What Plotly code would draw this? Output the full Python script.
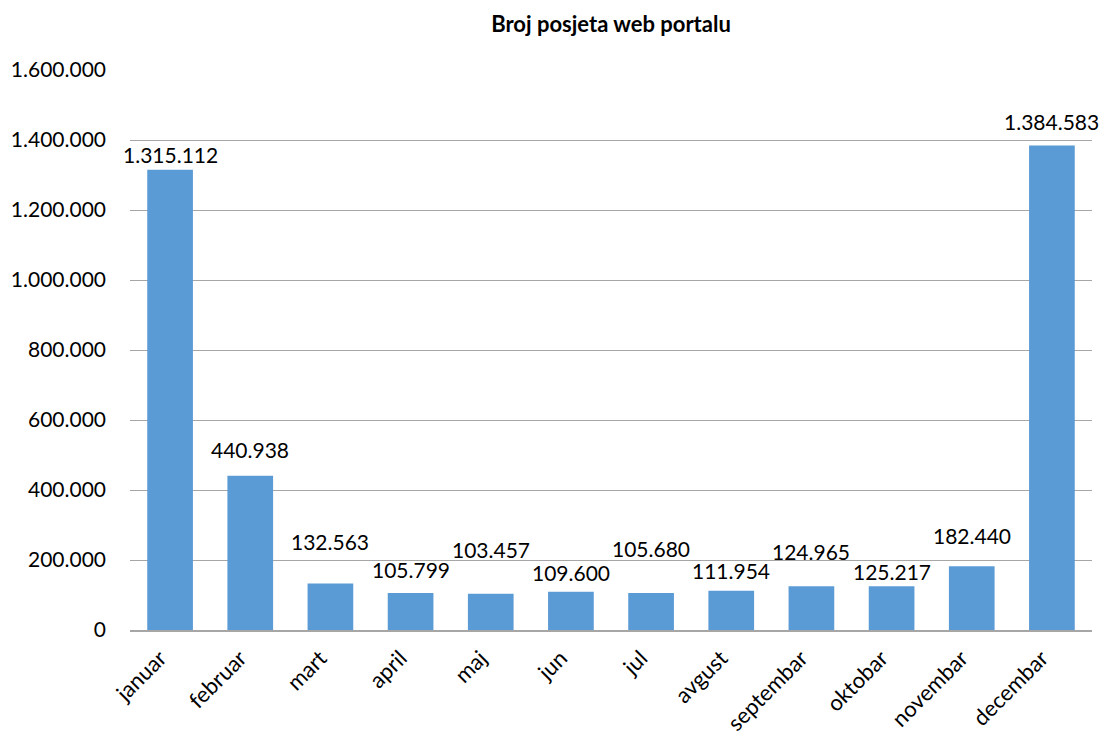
import plotly.graph_objects as go

months = ["januar", "februar", "mart", "april", "maj", "jun", "jul",
          "avgust", "septembar", "oktobar", "novembar", "decembar"]
visits = [1315112, 440938, 132563, 105799, 103457, 109600, 105680,
          111954, 124965, 125217, 182440, 1384583]
# pixel offsets of value labels above bar tops (label placement style)
label_shift = [15, 26, 42, 23, 44, 19, 45, 20, 35, 15, 31, 24]

tick_vals = [0, 200000, 400000, 600000, 800000, 1000000, 1200000, 1400000, 1600000]

FONT = "Lato"

def fmt(v):
    return f"{v:,}".replace(",", ".")

fig = go.Figure(go.Bar(
    x=months, y=visits,
    marker=dict(color="#5B9BD5", line=dict(width=0)),
    hoverinfo="x+y",
))

for m, v, s in zip(months, visits, label_shift):
    fig.add_annotation(x=m, y=v, text=fmt(v), showarrow=False,
                       yanchor="middle", yshift=s,
                       font=dict(family=FONT, size=21, color="#000000"))

fig.update_layout(
    width=1100, height=723,
    paper_bgcolor="white", plot_bgcolor="white",
    margin=dict(l=122, r=16, t=62, b=101),
    bargap=0.43,
    separators=",.",
    showlegend=False,
    title=dict(text="<b>Broj posjeta web portalu</b>", x=0.5, xref="paper",
               xanchor="center",
               y=0.977, yref="container", yanchor="middle",
               font=dict(family=FONT, size=22, color="#000000")),
    font=dict(family=FONT, size=21, color="#000000"),
    xaxis=dict(tickangle=-45, showgrid=False, showline=True,
               range=[-0.5, len(months) - 0.5],
               linecolor="#a6a6a6", linewidth=1.5, ticks="",
               automargin=False,
               ticklabelshift=-10, ticklabelstandoff=5,
               tickfont=dict(family=FONT, size=22, color="#000000")),
    yaxis=dict(range=[0, 1600000], tickvals=tick_vals, tickformat=",d",
               showgrid=True, gridcolor="#a6a6a6", gridwidth=1,
               zeroline=False, showline=False, ticks="",
               automargin=False,
               ticklabelstandoff=23,
               tickfont=dict(family=FONT, size=21, color="#000000")),
)

fig.write_html("out.html")
